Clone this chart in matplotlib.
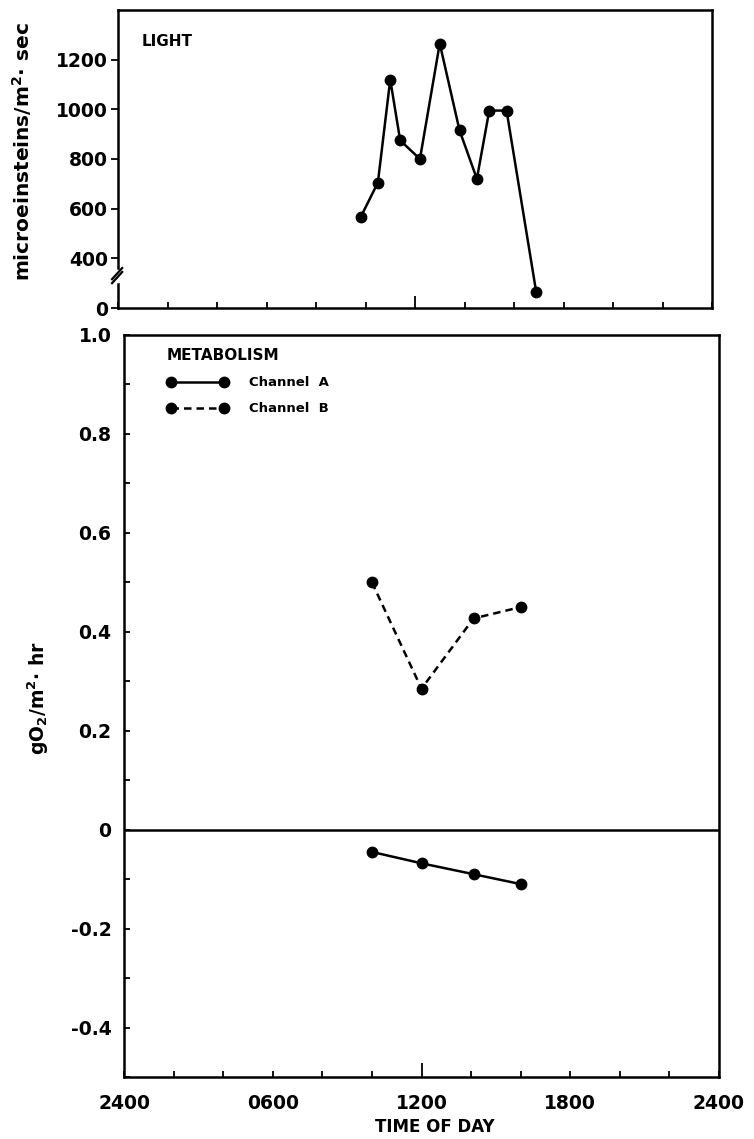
import matplotlib
matplotlib.use("Agg")
from matplotlib import pyplot as plt
from matplotlib.ticker import MultipleLocator, FixedLocator

# light readings (hour of day, microeinsteins/m2.sec)
light_hours = [9.8, 10.5, 11.0, 11.4, 12.2, 13.0, 13.8, 14.5, 15.0, 15.7, 16.9]
light_values = [565, 705, 1120, 875, 800, 1265, 915, 720, 995, 995, 125]

# metabolism (gO2/m2.hr)
chan_hours = [10.0, 12.0, 14.1, 16.0]
chan_a = [-0.045, -0.068, -0.090, -0.110]
chan_b = [0.50, 0.285, 0.427, 0.450]

light_ticks = [0, 400, 600, 800, 1000, 1200]
time_ticks = [0, 6, 12, 18, 24]
time_labels = ['2400', '0600', '1200', '1800', '2400']


def brk(v):
    # axis is broken below 400: 0..400 squeezed into half the space
    return v if v >= 400 else 200 + v / 2.0


plt.rcParams['font.family'] = ['DejaVu Sans']
plt.rcParams['font.weight'] = 'bold'
LW = 1.8
fig = plt.figure(figsize=(7.54, 11.39), dpi=100)

# ---- top panel: light ----
ax = fig.add_axes([118 / 754, 1 - 308 / 1139, 594 / 754, 298 / 1139])
ax.plot(light_hours, [brk(v) for v in light_values], '-o', color='black',
        lw=LW, ms=7.5)
ax.set_xlim(0, 24)
ax.set_ylim(200, 1400)
ax.set_yticks([brk(v) for v in light_ticks])
ax.set_yticklabels([str(v) for v in light_ticks])
ax.xaxis.set_major_locator(FixedLocator(time_ticks))
ax.xaxis.set_minor_locator(MultipleLocator(2))
ax.set_xticklabels([])
ax.tick_params(axis='x', which='both', direction='in', length=4, width=1.3)
ax.tick_params(axis='y', direction='out', length=5, width=1.3, pad=2,
               labelsize=13.5)
ax.xaxis.get_major_ticks()[2].tick1line.set_markersize(9)
for s in ax.spines.values():
    s.set_linewidth(LW)
ax.spines['left'].set_visible(False)
yt = ax.get_yaxis_transform()
ax.plot([0, 0], [360, 1400], color='black', lw=LW, transform=yt, clip_on=False)
ax.plot([0, 0], [200, 296], color='black', lw=LW, transform=yt, clip_on=False)
for off in (0, 16):
    ax.plot([-0.010, 0.007], [300 + off, 345 + off], color='black', lw=1.6,
            transform=yt, clip_on=False)
ax.text(0.04, 0.893, 'LIGHT', transform=ax.transAxes, fontsize=11,
        fontweight='bold', va='center', ha='left')
fig.text(22 / 754, 1 - 152 / 1139, 'microeinsteins/m$^{\\mathbf{2}}$$\\cdot$ sec',
         rotation=90, ha='center', va='center', fontsize=14.5, fontweight='bold')

# ---- bottom panel: metabolism ----
bx = fig.add_axes([124 / 754, 1 - 1077 / 1139, 595 / 754, 742 / 1139])
bx.plot(chan_hours, chan_a, '-o', color='black', lw=LW, ms=7.5,
        label='Channel  A')
bx.plot(chan_hours, chan_b, '--o', color='black', lw=LW, ms=7.5,
        dashes=(3, 2), label='Channel  B')
bx.axhline(0, color='black', lw=LW)
bx.set_xlim(0, 24)
bx.set_ylim(-0.5, 1.0)
bx.xaxis.set_major_locator(FixedLocator(time_ticks))
bx.xaxis.set_minor_locator(MultipleLocator(2))
bx.set_xticklabels(time_labels)
bx.yaxis.set_major_locator(FixedLocator([-0.4, -0.2, 0, 0.2, 0.4, 0.6, 0.8, 1.0]))
bx.yaxis.set_minor_locator(MultipleLocator(0.1))
bx.set_yticklabels(['-0.4', '-0.2', '0', '0.2', '0.4', '0.6', '0.8', '1.0'])
bx.tick_params(axis='x', which='both', direction='in', length=4, width=1.3,
               pad=12, labelsize=13.5)
bx.tick_params(axis='y', which='both', direction='in', length=4, width=1.3,
               pad=9, labelsize=13.5)
bx.xaxis.get_major_ticks()[2].tick1line.set_markersize(10)
for s in bx.spines.values():
    s.set_linewidth(LW)
leg = bx.legend(loc='upper left', bbox_to_anchor=(43 / 595, 1 - 13 / 742),
                frameon=False, title='METABOLISM', alignment='left',
                handlelength=4.6, numpoints=2, borderpad=0, borderaxespad=0,
                labelspacing=1.0, handletextpad=1.6,
                prop={'size': 9.5, 'weight': 'bold'},
                title_fontproperties={'size': 11, 'weight': 'bold'})
fig.text(38 / 754, 1 - 698 / 1139, 'gO$_{\\mathbf{2}}$/m$^{\\mathbf{2}}$$\\cdot$ hr',
         rotation=90, ha='center', va='center', fontsize=13.5, fontweight='bold')
fig.text(435 / 754, 1 - 1127 / 1139, 'TIME OF DAY', ha='center', va='center',
         fontsize=12, fontweight='bold')

fig.savefig('out.png', dpi=100)
